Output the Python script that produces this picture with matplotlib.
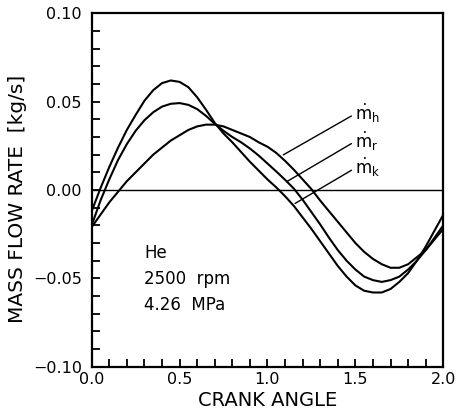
import numpy as np
import matplotlib
matplotlib.use('Agg')
import matplotlib.pyplot as plt
from matplotlib.ticker import MultipleLocator

plt.rcParams['font.family'] = ['DejaVu Sans']
plt.rcParams['mathtext.fontset'] = 'dejavusans'

# crank angle (units of pi), read every 0.05
crank = np.round(np.arange(0, 2.0001, 0.05), 2)

# m_k : tallest peak
m_k = [-0.012, 0.001, 0.013, 0.024, 0.034, 0.0425, 0.0505, 0.0565, 0.0605, 0.062,
       0.0612, 0.0582, 0.0525, 0.0455, 0.038, 0.032, 0.027, 0.0215, 0.016, 0.011,
       0.006, 0.0015, -0.0035, -0.009, -0.0155, -0.022, -0.029, -0.036, -0.043, -0.049,
       -0.054, -0.057, -0.058, -0.058, -0.056, -0.052, -0.047, -0.040, -0.032, -0.023,
       -0.014]

# m_r : middle
m_r = [-0.020, -0.006, 0.006, 0.017, 0.026, 0.0335, 0.0395, 0.044, 0.0472, 0.0488,
       0.0492, 0.0482, 0.0458, 0.042, 0.0375, 0.0335, 0.030, 0.027, 0.0235, 0.0195,
       0.015, 0.0105, 0.0058, 0.0008, -0.0055, -0.0125, -0.0195, -0.027, -0.034, -0.040,
       -0.045, -0.049, -0.051, -0.052, -0.051, -0.049, -0.045, -0.040, -0.034, -0.027,
       -0.020]

# m_h : flattest, latest
m_h = [-0.021, -0.014, -0.007, -0.001, 0.005, 0.010, 0.015, 0.020, 0.024, 0.028,
       0.031, 0.034, 0.036, 0.037, 0.037, 0.036, 0.034, 0.032, 0.030, 0.027,
       0.0245, 0.021, 0.0165, 0.0115, 0.006, 0.0005, -0.006, -0.012, -0.018, -0.024,
       -0.030, -0.035, -0.039, -0.042, -0.044, -0.044, -0.042, -0.038, -0.034, -0.028,
       -0.022]

fig = plt.figure(figsize=(4.57, 4.09), dpi=100)
ax = fig.add_axes([0.2006, 0.1034, 0.7694, 0.864])

ax.axhline(0, color='black', lw=1.0)
for series in (m_k, m_r, m_h):
    ax.plot(crank, series, color='black', lw=1.5, solid_joinstyle='round')

# curve labels with leader lines
labels = [(r'$\dot{\mathrm{m}}_\mathrm{h}$', (1.090, 0.0199), (1.50, 0.0432)),
          (r'$\dot{\mathrm{m}}_\mathrm{r}$', (1.109, 0.0047), (1.50, 0.0276)),
          (r'$\dot{\mathrm{m}}_\mathrm{k}$', (1.157, -0.0076), (1.50, 0.0125))]
for txt, xy, xyt in labels:
    ax.annotate(txt, xy=xy, xytext=xyt, fontsize=12, ha='left', va='center',
                arrowprops=dict(arrowstyle='-', color='black', lw=1.0,
                                shrinkA=1, shrinkB=0, relpos=(0, 0.5)))

ax.text(0.30, -0.0358, 'He', fontsize=12, va='center')
ax.text(0.30, -0.0503, '2500  rpm', fontsize=12, va='center')
ax.text(0.30, -0.065, '4.26  MPa', fontsize=12, va='center')

ax.set_xlim(0, 2.0)
ax.set_ylim(-0.10, 0.10)
ax.xaxis.set_major_locator(MultipleLocator(0.5))
ax.xaxis.set_minor_locator(MultipleLocator(0.1))
ax.yaxis.set_major_locator(MultipleLocator(0.05))
ax.yaxis.set_minor_locator(MultipleLocator(0.01))
ax.xaxis.set_major_formatter(plt.FuncFormatter(lambda v, p: f'{v:.1f}'))
ax.yaxis.set_major_formatter(plt.FuncFormatter(lambda v, p: f'{v:.2f}'.replace('-', '\u2212')))
ax.tick_params(which='both', direction='in', top=False, right=False,
               length=6, width=1.3, labelsize=11.5)
ax.tick_params(axis='y', pad=7)
ax.tick_params(axis='x', pad=4)
for s in ax.spines.values():
    s.set_linewidth(1.6)

ax.set_xlabel('CRANK ANGLE', fontsize=14, labelpad=3)
ax.set_ylabel('MASS FLOW RATE  [kg/s]', fontsize=14.5, labelpad=4)
ax.yaxis.label.set_y(0.475)

fig.savefig('out.png', dpi=100)
